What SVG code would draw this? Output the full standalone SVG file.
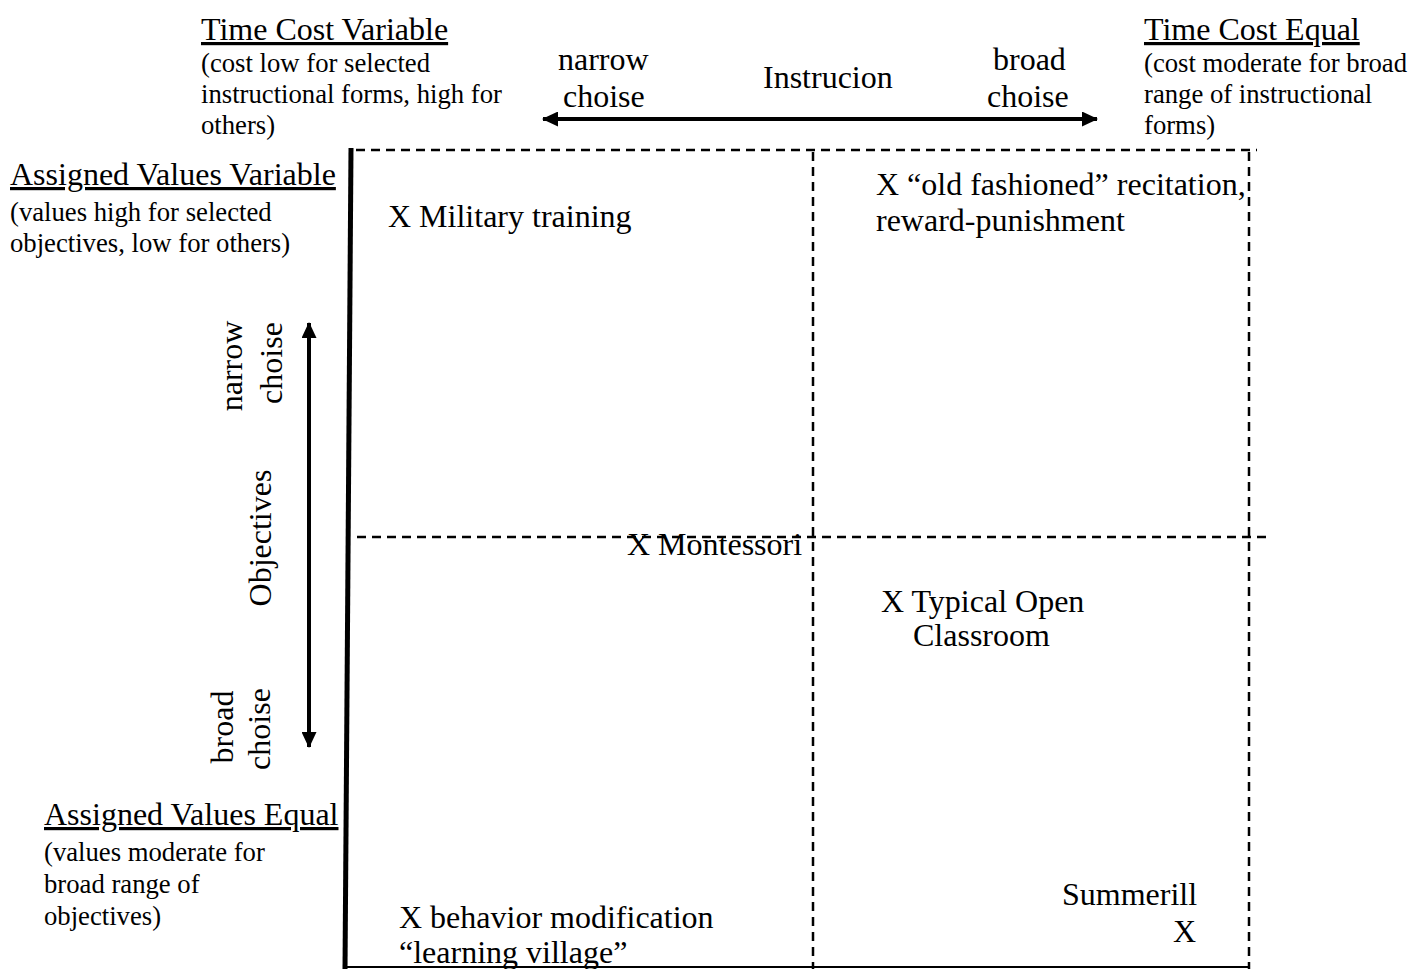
<svg xmlns="http://www.w3.org/2000/svg" width="1408" height="969" viewBox="0 0 1408 969">
  <style>
    text { font-family: "Liberation Serif", "Times New Roman", serif; fill: #000; }
    .big { font-size: 32px; }
    .small { font-size: 26.7px; }
    .head { font-size: 32px; text-decoration: underline; }
    .dash { stroke: #000; stroke-width: 2.5; stroke-dasharray: 9 6; fill: none; }
    .solid { stroke: #000; fill: none; }
  </style>
  <defs>
    <marker id="head" viewBox="0 0 16 15" refX="15" refY="7.5" markerWidth="16" markerHeight="15" markerUnits="userSpaceOnUse" orient="auto-start-reverse">
      <path d="M0,0 L16,7.5 L0,15 Z" fill="#000"/>
    </marker>
  </defs>

  <rect width="1408" height="969" fill="#fff"/>

  <!-- quadrant grid and axes -->
  <g id="connectors">
    <line class="dash" x1="356" y1="150" x2="1257" y2="150"/>
    <line class="dash" x1="357" y1="537" x2="1266" y2="537"/>
    <line class="dash" x1="813" y1="152" x2="813" y2="969"/>
    <line class="dash" x1="1249" y1="152" x2="1249" y2="969"/>
    <line class="solid" stroke-width="2" x1="346" y1="967" x2="1248" y2="967"/>
    <line class="solid" stroke-width="5" x1="351" y1="148" x2="345" y2="969"/>
    <line class="solid" stroke-width="4" x1="543" y1="119" x2="1097" y2="119" marker-start="url(#head)" marker-end="url(#head)"/>
    <line class="solid" stroke-width="4" x1="309" y1="323" x2="309" y2="747" marker-start="url(#head)" marker-end="url(#head)"/>
  </g>

  <!-- instruction axis labels -->
  <g id="time-cost-variable">
    <text class="head" x="201" y="40">Time Cost Variable</text>
    <text class="small" x="201" y="72">(cost low for selected</text>
    <text class="small" x="201" y="103">instructional forms, high for</text>
    <text class="small" x="201" y="134">others)</text>
  </g>
  <g id="time-cost-equal">
    <text class="head" x="1144" y="40">Time Cost Equal</text>
    <text class="small" x="1144" y="72">(cost moderate for broad</text>
    <text class="small" x="1144" y="103">range of instructional</text>
    <text class="small" x="1144" y="134">forms)</text>
  </g>
  <g id="instruction-axis">
    <text class="big" x="558" y="70">narrow</text>
    <text class="big" x="563" y="107">choise</text>
    <text class="big" x="763" y="88">Instrucion</text>
    <text class="big" x="993" y="70">broad</text>
    <text class="big" x="987" y="107">choise</text>
  </g>

  <!-- objectives axis labels -->
  <g id="assigned-values-variable">
    <text class="head" x="10" y="185">Assigned Values Variable</text>
    <text class="small" x="10" y="221">(values high for selected</text>
    <text class="small" x="10" y="252">objectives, low for others)</text>
  </g>
  <g id="assigned-values-equal">
    <text class="head" x="44" y="825">Assigned Values Equal</text>
    <text class="small" x="44" y="861">(values moderate for</text>
    <text class="small" x="44" y="893">broad range of</text>
    <text class="small" x="44" y="925">objectives)</text>
  </g>
  <g id="objectives-axis" text-anchor="middle">
    <text class="big" transform="translate(242,366) rotate(-90)">narrow</text>
    <text class="big" transform="translate(282,363) rotate(-90)">choise</text>
    <text class="big" transform="translate(271,538) rotate(-90)">Objectives</text>
    <text class="big" transform="translate(233,727) rotate(-90)">broad</text>
    <text class="big" transform="translate(270,729) rotate(-90)">choise</text>
  </g>

  <!-- plotted programs -->
  <g id="military-training">
    <text class="big" x="388" y="227">X Military training</text>
  </g>
  <g id="old-fashioned-recitation">
    <text class="big" x="876" y="195">X “old fashioned” recitation,</text>
    <text class="big" x="876" y="231">reward-punishment</text>
  </g>
  <g id="montessori">
    <text class="big" x="627" y="555">X Montessori</text>
  </g>
  <g id="typical-open-classroom">
    <text class="big" x="881" y="612">X Typical Open</text>
    <text class="big" x="913" y="646">Classroom</text>
  </g>
  <g id="behavior-modification">
    <text class="big" x="399" y="928">X behavior modification</text>
    <text class="big" x="399" y="963">“learning village”</text>
  </g>
  <g id="summerill">
    <text class="big" x="1062" y="905">Summerill</text>
    <text class="big" x="1173" y="942">X</text>
  </g>
</svg>
